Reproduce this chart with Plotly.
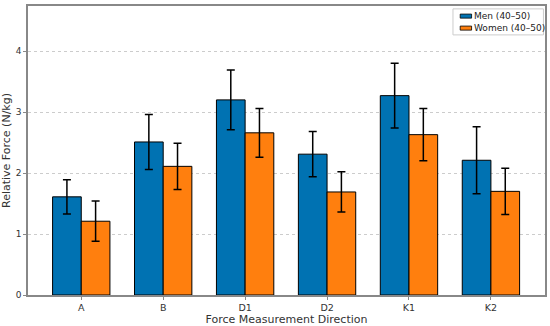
import plotly.graph_objects as go

categories = ["A", "B", "D1", "D2", "K1", "K2"]
men = [1.61, 2.51, 3.20, 2.31, 3.27, 2.21]
men_err = [0.28, 0.45, 0.49, 0.37, 0.53, 0.55]
women = [1.21, 2.11, 2.66, 1.69, 2.63, 1.70]
women_err = [0.33, 0.38, 0.40, 0.33, 0.43, 0.38]
series_names = ["Men (40–50)", "Women (40–50)"]
series_colors = ["#0072B2", "#FF7F0E"]
yticks = [0, 1, 2, 3, 4]

font = "DejaVu Sans"
fig = go.Figure()
for name, vals, errs, col in zip(series_names, [men, women], [men_err, women_err], series_colors):
    fig.add_trace(go.Bar(
        x=categories, y=vals, name=name,
        marker=dict(color=col, line=dict(color="black", width=1)),
        error_y=dict(type="data", array=errs, color="black", thickness=1.5, width=4),
    ))

# compact matplotlib-style legend drawn in paper coordinates
shapes = [dict(type="rect", xref="paper", yref="paper", x0=0.822, x1=0.997, y0=0.900, y1=0.990,
               line=dict(color="#cccccc", width=1), fillcolor="white", layer="above")]
annotations = []
for i, (name, col) in enumerate(zip(series_names, series_colors)):
    yc = 0.965 - i * 0.0415
    shapes.append(dict(type="rect", xref="paper", yref="paper", x0=0.836, x1=0.858,
                       y0=yc - 0.007, y1=yc + 0.007, fillcolor=col,
                       line=dict(color="black", width=0.8), layer="above"))
    annotations.append(dict(xref="paper", yref="paper", x=0.859, y=yc, text=name,
                            showarrow=False, xanchor="left", yanchor="middle",
                            font=dict(size=9, color="#222")))

fig.update_layout(
    width=550, height=326,
    margin=dict(l=28, r=5, t=6, b=31, autoexpand=False),
    plot_bgcolor="white", paper_bgcolor="white",
    barmode="group", bargap=0.3, bargroupgap=0,
    font=dict(family=font, size=9.5, color="#333"),
    showlegend=False,
    shapes=shapes, annotations=annotations,
)
fig.update_xaxes(
    range=[-0.65, 5.66], showline=True, linecolor="#888", linewidth=1.5, mirror=True,
    ticks="outside", ticklen=3, tickcolor="#888", automargin=False,
    title=dict(text="Force Measurement Direction", font=dict(size=11)),
    tickfont=dict(size=9.5),
)
fig.update_yaxes(
    range=[0, 4.74], tickvals=yticks, showline=True, linecolor="#888", linewidth=1.5, mirror=True,
    ticks="outside", ticklen=3, tickcolor="#888", automargin=False,
    showgrid=True, gridcolor="#ccc", griddash="dot", gridwidth=1, zeroline=False,
    title=dict(text="Relative Force (N/kg)", font=dict(size=11)),
    tickfont=dict(size=9),
)
fig.write_html("out.html", config={"displayModeBar": False},
               post_script="document.body.style.margin='0';document.body.style.overflow='hidden';")
